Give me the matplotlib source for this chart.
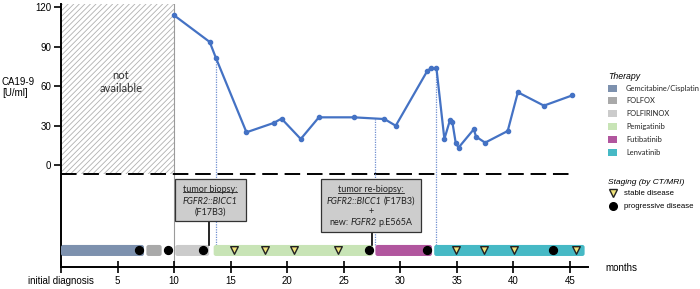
import matplotlib
matplotlib.use('Agg')
import matplotlib.pyplot as plt
from matplotlib.patches import FancyBboxPatch, Rectangle
from matplotlib.lines import Line2D
from matplotlib.transforms import offset_copy, IdentityTransform

# ---------------- data ----------------
ca_month = [10.0, 13.15, 13.7, 16.4, 18.8, 19.5, 21.2, 22.8, 25.9, 28.6, 29.6,
            32.4, 32.7, 33.2, 33.9, 34.4, 34.6, 34.9, 35.15, 36.5, 36.7, 37.5,
            39.5, 40.4, 42.7, 45.2]
ca_value = [114, 93.7, 81.5, 24.9, 32, 35.3, 19.8, 36.3, 36.3, 35, 29.9,
            71.8, 73.6, 73.6, 19.8, 34.3, 33, 17, 13.2, 27.2, 21.6, 17,
            25.9, 55.4, 45.2, 53]

therapies = ['Gemcitabine/Cisplatin', 'FOLFOX', 'FOLFIRINOX', 'Pemigatinib',
             'Futibatinib', 'Lenvatinib']
therapy_start = [0.0, 7.55, 10.1, 13.5, 27.8, 33.0]
therapy_end = [7.34, 8.9, 13.1, 27.6, 32.8, 46.3]
therapy_colors = ['#7d91ae', '#a9a9a9', '#cbcbcb', '#c8e4b6', '#b1569e', '#46b9c5']

stable_months = [15.3, 18.0, 20.6, 24.5, 34.9, 37.4, 40.1, 45.5]
progressive_months = [6.9, 9.5, 12.6, 27.2, 32.4, 43.5]

event_months = [13.7, 27.8, 33.2]
event_values = [81.5, 35.4, 73.6]

not_available_end = 10
threshold = -7

xticks = [0, 5, 10, 15, 20, 25, 30, 35, 40, 45]
xticklabels = ['initial diagnosis', '5', '10', '15', '20', '25', '30', '35', '40', '45']
yticks = [0, 30, 60, 90, 120]

# ---------------- figure ----------------
W, H = 700, 289
plt.rcParams['hatch.linewidth'] = 0.6
fig = plt.figure(figsize=(7, 2.89), dpi=100)
ax = fig.add_axes([61 / W, (H - 267.4) / H, 527 / W, 263.9 / H])
ax.set_xlim(0, 46.6)
ax.set_ylim(-78, 123)

tick_font = dict(family='Liberation Sans', size=7)
small_font = 'Lato'

for s in ['top', 'right']:
    ax.spines[s].set_visible(False)
for s in ['left', 'bottom']:
    ax.spines[s].set_linewidth(1.4)
ax.set_xticks(xticks)
ax.set_xticklabels(xticklabels, fontdict=tick_font)
ax.set_yticks(yticks)
ax.set_yticklabels([str(v) for v in yticks], fontdict=tick_font)
ax.tick_params(axis='x', direction='inout', length=9, width=1.2, pad=2)
ax.tick_params(axis='y', direction='out', length=5, width=1.2, pad=2)

# hatched not available region
ax.fill_between([0, not_available_end], threshold, 123, facecolor='white',
                edgecolor='#b0b0b0', hatch='//////', linewidth=0, zorder=0)
ax.axvline(not_available_end, color='#9a9a9a', lw=0.8, zorder=1)
ax.text(5.3, 68.5, 'not', ha='center', va='center', family=small_font, fontsize=8, color='#333333')
ax.text(5.3, 57.9, 'available', ha='center', va='center', family=small_font, fontsize=8, color='#333333')

# threshold dashed line
ax.plot([0, 45.4], [threshold, threshold], color='black', lw=1.4, dashes=(8, 3.5), zorder=2)

# dotted event lines
bar_y = -65.1
bar_h = 8.4
for m, v in zip(event_months, event_values):
    ax.plot([m, m], [bar_y + bar_h / 2, v], color='#6f8fd0', lw=0.9, ls=(0, (1, 1)), zorder=2)

# CA19-9 line
ax.plot(ca_month, ca_value, color='#4472c4', lw=1.6, marker='o', ms=3, zorder=4)

# therapy bars
for s, e, c in zip(therapy_start, therapy_end, therapy_colors):
    p = FancyBboxPatch((s, bar_y - bar_h / 2), e - s, bar_h,
                       boxstyle='round,pad=0,rounding_size=0.2', mutation_aspect=8.6,
                       facecolor=c, edgecolor='none', zorder=3)
    ax.add_patch(p)

ax.scatter(stable_months, [bar_y] * len(stable_months), marker='v', s=30,
           facecolor='#efe27a', edgecolor='#222222', linewidths=1.0, zorder=5)
ax.scatter(progressive_months, [bar_y] * len(progressive_months), marker='o', s=32,
           facecolor='black', edgecolor='black', zorder=5)

# annotation boxes
box_kw = dict(facecolor='#cdcdcd', edgecolor='#333333', lw=0.9, zorder=6)
ax.add_patch(Rectangle((10.07, -42.4), 16.36 - 10.07, -10.9 + 42.4, **box_kw))
ax.add_patch(Rectangle((22.97, -51.3), 31.8 - 22.97, -10.9 + 51.3, **box_kw))
ax.plot([13.1, 13.1], [-42.4, bar_y + bar_h / 2], color='black', lw=1.2, zorder=5)
ax.plot([27.5, 27.5], [-51.3, bar_y + bar_h / 2], color='black', lw=1.2, zorder=5)

fig.canvas.draw()
renderer = fig.canvas.get_renderer()


def rich_line(x, y, segs, fs=6.5, underline=False):
    texts = []
    widths = []
    for s, style in segs:
        t = ax.text(x, y, s, fontsize=fs, family=small_font, style=style,
                    ha='left', va='center', color='#222222', zorder=7)
        texts.append(t)
        widths.append(t.get_window_extent(renderer).width)
    sp = ax.text(0, 0, 'a a', fontsize=fs, family=small_font)
    sp2 = ax.text(0, 0, 'aa', fontsize=fs, family=small_font)
    spw = sp.get_window_extent(renderer).width - sp2.get_window_extent(renderer).width
    sp.remove(); sp2.remove()
    total = sum(widths) + spw * (len(segs) - 1)
    off = -total / 2
    for t, w in zip(texts, widths):
        t.set_transform(offset_copy(ax.transData, fig=fig, x=off, y=0, units='dots'))
        off += w + spw
    if underline:
        x0, yb = ax.transData.transform((x, y))
        ext = texts[0].get_window_extent(renderer)
        ly = yb - ext.height / 2 + 1.5
        fig.add_artist(Line2D([x0 - total / 2, x0 + total / 2], [ly, ly], lw=0.6,
                              color='#222222', transform=IdentityTransform(), zorder=7))


def py(ypix):
    return (165 - ypix) / 1.313


rich_line(13.2, py(189.3), [('tumor biopsy:', 'normal')], underline=True)
rich_line(13.2, py(201.2), [('FGFR2::BICC1', 'italic')])
rich_line(13.2, py(211.7), [('(F17B3)', 'normal')])

rich_line(27.4, py(190.0), [('tumor re-biopsy:', 'normal')], underline=True)
rich_line(27.4, py(201.2), [('FGFR2::BICC1', 'italic'), ('(F17B3)', 'normal')])
rich_line(27.4, py(211.7), [('+', 'normal')])
rich_line(27.4, py(222.3), [('new:', 'normal'), ('FGFR2', 'italic'), ('p.E565A', 'normal')])

# y label and months label
fig.text(2 / W, 1 - 82 / H, 'CA19-9', family='Liberation Sans', fontsize=7, va='center', ha='left')
fig.text(2 / W, 1 - 92.5 / H, '[U/ml]', family='Liberation Sans', fontsize=7, va='center', ha='left')
fig.text(605 / W, 1 - 268 / H, 'months', family='Liberation Sans', fontsize=7, va='center', ha='left')

# legend
fig.text(608 / W, 1 - 76.5 / H, 'Therapy', family='Liberation Sans', style='italic', fontsize=6.3,
         va='center', ha='left')
leg_rows = [88.3, 100.9, 113.5, 126.1, 139.3, 152.4]
for name, c, yy in zip(therapies, therapy_colors, leg_rows):
    fig.add_artist(Rectangle((607.5 / W, 1 - (yy + 3.5) / H), 9.5 / W, 7 / H, facecolor=c,
                             edgecolor='none', transform=fig.transFigure))
    fig.text(626 / W, 1 - yy / H, name, family=small_font, fontsize=5.4, va='center', ha='left',
             color='#222222')

fig.text(608 / W, 1 - 182.3 / H, 'Staging (by CT/MRI)', family='Liberation Sans', style='italic',
         fontsize=6.0, va='center', ha='left')
fig.add_artist(Line2D([613.3 / W], [1 - 193.3 / H], marker='v', ms=5.5, mfc='#efe27a', mec='#222222',
                      mew=1.0, transform=fig.transFigure, ls='none'))
fig.add_artist(Line2D([613.3 / W], [1 - 206 / H], marker='o', ms=5.5, mfc='black', mec='black',
                      transform=fig.transFigure, ls='none'))
fig.text(624.3 / W, 1 - 193.3 / H, 'stable disease', family='Liberation Sans', fontsize=5.6,
         va='center', ha='left')
fig.text(624.3 / W, 1 - 206 / H, 'progressive disease', family='Liberation Sans', fontsize=5.6,
         va='center', ha='left')

fig.savefig('out.png', dpi=100)
